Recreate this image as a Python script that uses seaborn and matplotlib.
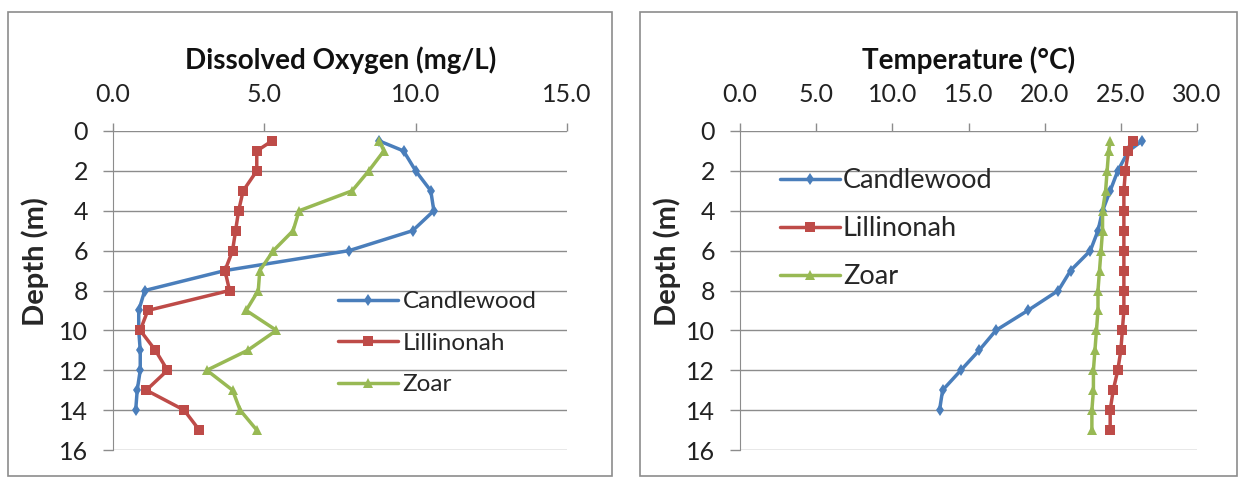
import numpy as np
import pandas as pd
import matplotlib
matplotlib.use("Agg")
import matplotlib.pyplot as plt
from matplotlib.patches import Rectangle
import seaborn as sns

# ---- data ----
depth_cw = [0.5, 1, 2, 3, 4, 5, 6, 7, 8, 9, 10, 11, 12, 13, 14]
depth_full = [0.5, 1, 2, 3, 4, 5, 6, 7, 8, 9, 10, 11, 12, 13, 14, 15]

do_candlewood = [8.8, 9.6, 10.0, 10.5, 10.6, 9.9, 7.8, 3.7, 1.05, 0.85, 0.85, 0.9, 0.9, 0.8, 0.75]
do_lillinonah = [5.25, 4.75, 4.75, 4.3, 4.15, 4.05, 3.95, 3.7, 3.85, 1.15, 0.9, 1.4, 1.8, 1.1, 2.35, 2.85]
do_zoar = [8.8, 8.95, 8.45, 7.9, 6.15, 5.95, 5.3, 4.85, 4.8, 4.4, 5.4, 4.45, 3.1, 3.95, 4.2, 4.75]

t_candlewood = [26.4, 25.5, 24.8, 24.3, 23.8, 23.5, 23.0, 21.7, 20.9, 18.9, 16.8, 15.7, 14.5, 13.3, 13.1]
t_lillinonah = [25.8, 25.5, 25.3, 25.2, 25.2, 25.2, 25.2, 25.2, 25.2, 25.2, 25.1, 25.0, 24.8, 24.5, 24.3, 24.3]
t_zoar = [24.3, 24.2, 24.1, 24.0, 23.8, 23.8, 23.7, 23.6, 23.5, 23.5, 23.4, 23.3, 23.2, 23.2, 23.1, 23.1]

lakes = ["Candlewood", "Lillinonah", "Zoar"]
colors = {"Candlewood": "#4A7EBB", "Lillinonah": "#BE4B48", "Zoar": "#98B954"}
markers = {"Candlewood": "d", "Lillinonah": "s", "Zoar": "^"}
msizes = {"Candlewood": 6, "Lillinonah": 7.5, "Zoar": 7}

do_df = pd.concat([
    pd.DataFrame({"lake": "Candlewood", "depth": depth_cw, "value": do_candlewood}),
    pd.DataFrame({"lake": "Lillinonah", "depth": depth_full, "value": do_lillinonah}),
    pd.DataFrame({"lake": "Zoar", "depth": depth_full, "value": do_zoar}),
])
t_df = pd.concat([
    pd.DataFrame({"lake": "Candlewood", "depth": depth_cw, "value": t_candlewood}),
    pd.DataFrame({"lake": "Lillinonah", "depth": depth_full, "value": t_lillinonah}),
    pd.DataFrame({"lake": "Zoar", "depth": depth_full, "value": t_zoar}),
])

sns.set_style("white")
plt.rcParams["font.family"] = ["Lato", "DejaVu Sans"]

W, H = 1244, 479
fig = plt.figure(figsize=(W / 100, H / 100), dpi=100)

# panel frames
fig.patches.append(Rectangle((8 / W, 1 - 476 / H), 604 / W, 464 / H, transform=fig.transFigure,
                             fill=False, edgecolor="#8c8c8c", linewidth=1.2))
fig.patches.append(Rectangle((640 / W, 1 - 476 / H), 597 / W, 464 / H, transform=fig.transFigure,
                             fill=False, edgecolor="#8c8c8c", linewidth=1.2))

ax1 = fig.add_axes([113 / W, 1 - 450 / H, 454 / W, 319 / H])
ax2 = fig.add_axes([740 / W, 1 - 450 / H, 457 / W, 319 / H])


def draw(ax, df, xmax, xticks, title, title_x, ylab_x, leg_pos, leg_size, hlen, hpad):
    sns.lineplot(data=df, x="value", y="depth", hue="lake", style="lake",
                 palette=colors, markers=markers, dashes=False, sort=False,
                 orient="y", linewidth=2.5, markersize=7, markeredgewidth=0,
                 ax=ax)
    # marker size per lake, as in the original
    for line in ax.lines:
        for lake in lakes:
            if matplotlib.colors.same_color(line.get_color(), colors[lake]):
                line.set_markersize(msizes[lake])
    ax.set_xlim(0, xmax)
    ax.set_ylim(16, 0)
    ax.set_xticks(xticks)
    ax.set_xticklabels([f"{v:.1f}" for v in xticks])
    ax.set_yticks(np.arange(0, 17, 2))
    ax.xaxis.tick_top()
    ax.tick_params(axis="x", top=True, bottom=False, length=6, width=1,
                   color="#8c8c8c", labelsize=18, pad=12, labelcolor="#222222")
    ax.tick_params(axis="y", left=True, length=7, width=1,
                   color="#8c8c8c", labelsize=18, pad=11, labelcolor="#222222")
    ax.grid(axis="y", color="#8c8c8c", linewidth=1)
    ax.grid(axis="x", visible=False)
    for s in ["top", "right", "bottom"]:
        ax.spines[s].set_visible(False)
    ax.spines["left"].set_color("#8c8c8c")
    ax.set_xlabel("")
    ax.set_ylabel("Depth (m)", fontsize=21, fontweight="bold")
    ax.yaxis.set_label_coords(ylab_x, 0.59)
    fig.text(title_x / W, 1 - 60 / H, title, fontsize=20, fontweight="bold",
             ha="center", va="center", color="#111111")
    handles, labels = ax.get_legend_handles_labels()
    ax.legend(handles, labels, frameon=False, fontsize=leg_size, loc="upper left",
              bbox_to_anchor=leg_pos, bbox_transform=fig.transFigure,
              handlelength=hlen, handletextpad=hpad, labelspacing=0.85,
              borderaxespad=0, borderpad=0)


draw(ax1, do_df, 15, [0, 5, 10, 15], "Dissolved Oxygen (mg/L)", 341, -0.141,
     (338 / W, 1 - 291 / H), 17.5, 2.45, 0.2)
draw(ax2, t_df, 30, [0, 5, 10, 15, 20, 25, 30], "Temperature (\u00b0C)", 969, -0.13,
     (780 / W, 1 - 168 / H), 19.5, 2.2, 0.12)

fig.savefig("out.png", dpi=100)
